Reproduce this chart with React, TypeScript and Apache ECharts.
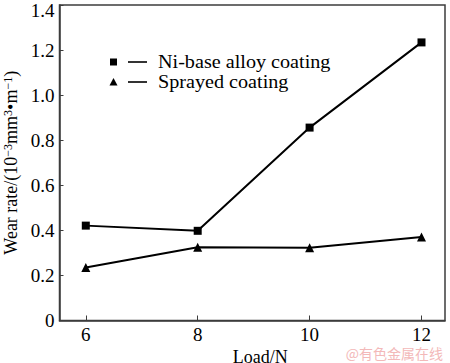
import React, { useEffect, useRef } from "react";
import * as echarts from "echarts";

const loads = [6, 8, 10, 12];
const niBase = [0.421, 0.398, 0.856, 1.234];
const sprayed = [0.235, 0.325, 0.323, 0.37];
const seriesNames = ["Ni-base alloy coating", "Sprayed coating"];
const xTickValues = [6, 8, 10, 12];
const xAxisName = "Load/N";
const watermark = "@有色金属在线";

const FONT = "Liberation Serif, Times New Roman, serif";
const INK = "#000";
const FRAME = "#3c3c3c";

export default function App() {
  const ref = useRef<HTMLDivElement>(null);
  useEffect(() => {
    if (!ref.current) return;
    const chart = echarts.init(ref.current, null, { renderer: "svg" });
    const legendRows = seriesNames.map((name, i) => {
      const cy = 62 + i * 20;
      return [
        i === 0
          ? { type: "rect", shape: { x: 110, y: cy - 3.5, width: 7, height: 7 }, style: { fill: INK } }
          : { type: "polygon", shape: { points: [[113.5, cy - 4], [117.5, cy + 3.5], [109.5, cy + 3.5]] }, style: { fill: INK } },
        { type: "line", shape: { x1: 128, y1: cy, x2: 147, y2: cy }, style: { stroke: INK, lineWidth: 1.6 } },
        {
          type: "text",
          x: 158,
          y: cy,
          scaleX: 1.12,
          style: { text: name, fontFamily: FONT, fontSize: 18, fill: INK, verticalAlign: "middle", align: "left" },
        },
      ];
    }).flat();
    chart.setOption({
      animation: false,
      backgroundColor: "#fff",
      grid: {
        left: 59.5,
        right: 5,
        top: 5,
        bottom: 42.5,
        show: true,
        borderColor: FRAME,
        borderWidth: 1.5,
        containLabel: false,
        outerBoundsMode: "none",
      },
      xAxis: {
        type: "value",
        min: 5.53,
        max: 12.42,
        name: xAxisName,
        nameLocation: "middle",
        nameGap: 18,
        nameTextStyle: { fontFamily: FONT, fontSize: 18, lineHeight: 16, color: INK, padding: [0, 0, 0, 16] },
        axisLine: { show: true, lineStyle: { color: FRAME, width: 1.5 } },
        axisTick: { show: true, inside: true, length: 5, customValues: xTickValues, lineStyle: { color: FRAME } },
        axisLabel: { customValues: xTickValues, fontFamily: FONT, fontSize: 19, color: INK, margin: 4 },
        splitLine: { show: false },
      },
      yAxis: {
        type: "value",
        min: 0,
        max: 1.4,
        interval: 0.2,
        name: "{n|Wear rate/(10}{s|−3}{n|mm}{s|3}{n|•m}{s|−1}{n|)}",
        nameLocation: "middle",
        nameGap: 39,
        nameRotate: 90,
        nameTextStyle: {
          fontFamily: FONT,
          color: INK,
          rich: {
            n: { fontFamily: FONT, fontSize: 18, color: INK, lineHeight: 18 },
            s: { fontFamily: FONT, fontSize: 12, color: INK, lineHeight: 10, verticalAlign: "top" },
          },
        },
        axisLine: { show: true, lineStyle: { color: FRAME, width: 1.5 } },
        axisTick: { show: true, inside: true, length: 4, lineStyle: { color: FRAME } },
        axisLabel: {
          fontFamily: FONT,
          fontSize: 19,
          color: INK,
          margin: 5,
          formatter: (v: number) => (v === 0 ? "0" : v >= 1.4 ? "{top|" + v.toFixed(1) + "}" : v.toFixed(1)),
          rich: {
            top: { fontFamily: FONT, fontSize: 19, color: INK, lineHeight: 16, padding: [10, 0, 0, 0] },
          },
        },
        splitLine: { show: false },
      },
      series: [
        {
          name: seriesNames[0],
          type: "line",
          data: loads.map((x, i) => [x, niBase[i]]),
          symbol: "rect",
          symbolSize: 8,
          itemStyle: { color: INK },
          lineStyle: { color: INK, width: 2 },
        },
        {
          name: seriesNames[1],
          type: "line",
          data: loads.map((x, i) => [x, sprayed[i]]),
          symbol: "triangle",
          symbolSize: 9,
          itemStyle: { color: INK },
          lineStyle: { color: INK, width: 2 },
        },
      ],
      graphic: [
        ...legendRows,
        {
          type: "text",
          right: 7,
          top: 346,
          style: { text: watermark, fontFamily: "Noto Sans CJK SC, sans-serif", fontSize: 14, fill: "#f3b9b9" },
        },
      ],
    });
    return () => chart.dispose();
  }, []);
  return <div ref={ref} style={{ position: "fixed", left: 0, top: 0, width: 450, height: 363 }} />;
}
